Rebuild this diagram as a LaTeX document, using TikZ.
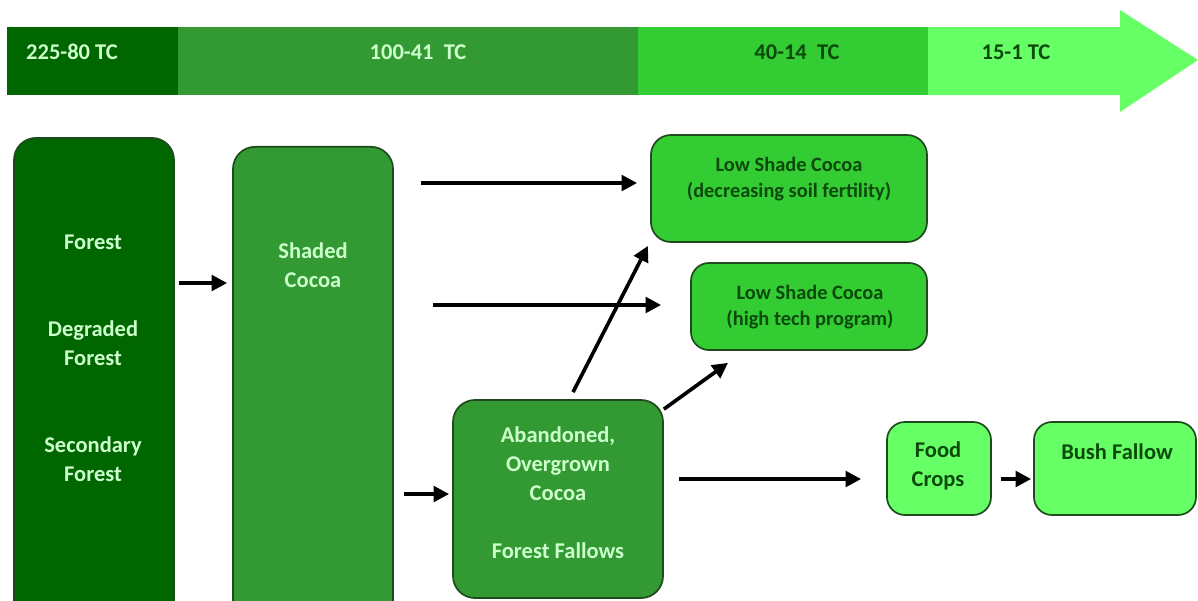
\documentclass[tikz,border=0pt]{standalone}
\usepackage{fontspec}
\setmainfont{Carlito}
\usetikzlibrary{arrows.meta}
\definecolor{forestgreen}{HTML}{006600}
\definecolor{shadegreen}{HTML}{339933}
\definecolor{lowgreen}{HTML}{33CC33}
\definecolor{cropgreen}{HTML}{66FF66}
\definecolor{paletext}{HTML}{CCFFCC}
\definecolor{darktext}{HTML}{0B4A0B}
\definecolor{edgegreen}{HTML}{1E4A1E}
\tikzset{
        box/.style={draw=edgegreen,line width=1.2pt,rounded corners=0.55cm,inner sep=0pt},
        flow/.style={-{Triangle[length=11pt,width=11pt]},line width=2.6pt,black},
        lbl/.style={align=center,inner sep=0pt,font=\fontsize{16}{20.5}\selectfont\bfseries},
        small/.style={lbl,font=\fontsize{14.5}{18.5}\selectfont\bfseries}
}

\begin{document}
\begin{tikzpicture}[x=0.025cm,y=-0.025cm]
        \clip (0,0) rectangle (1198,600);
        \fill[white] (0,0) rectangle (1198,600);

        \fill[forestgreen](7,27) rectangle (178,95);
        \fill[shadegreen](178,27) rectangle (638,95);
        \fill[lowgreen](638,27) rectangle (928,95);
        \fill[cropgreen](928,27)--(1120,27)--(1120,10)--(1198,60)--(1120,112)--(1120,95)--(928,95)--cycle;
        \node[lbl,text=paletext] (tca) at (72,52) {225-80 TC};
        \node[lbl,text=paletext] (tcb) at (418,52) {100-41~ TC};
        \node[lbl,text=darktext] (tcc) at (797,52) {40-14~ TC};
        \node[lbl,text=darktext] (tcd) at (1016,52) {15-1 TC};

        \node[box,fill=forestgreen,minimum width=4cm,minimum height=12.55cm] (forest) at (94,389) {};
        \node[box,fill=shadegreen,minimum width=4cm,minimum height=12.33cm] (shaded) at (313,393.5) {};
        \node[box,fill=shadegreen,minimum width=5.25cm,minimum height=4.95cm] (aband) at (558,499) {};
        \node[box,fill=lowgreen,minimum width=6.9cm,minimum height=2.675cm,rounded corners=0.5cm] (lsca) at (789,188.5) {};
        \node[box,fill=lowgreen,minimum width=5.9cm,minimum height=2.175cm,rounded corners=0.45cm] (lscb) at (809,306.5) {};
        \node[box,fill=cropgreen,minimum width=2.6cm,minimum height=2.325cm,rounded corners=0.45cm] (food) at (939,468.5) {};
        \node[box,fill=cropgreen,minimum width=4.05cm,minimum height=2.325cm,rounded corners=0.45cm] (bush) at (1115,468.5) {};

        \node[lbl,text=paletext] (forestlbl) at (93,242) {Forest};
        \node[lbl,text=paletext] (degradedlbl) at (93,343) {Degraded\\Forest};
        \node[lbl,text=paletext] (secondarylbl) at (93,459) {Secondary\\Forest};
        \node[lbl,text=paletext] (shadedlbl) at (313,265) {Shaded\\Cocoa};
        \node[lbl,text=paletext] (abandlbl) at (558,464) {Abandoned,\\Overgrown\\Cocoa};
        \node[lbl,text=paletext] (fallowlbl) at (558,551) {Forest Fallows};
        \node[small,text=darktext] (lscalbl) at (789,179) {Low Shade Cocoa\\(decreasing soil fertility)};
        \node[small,text=darktext] (lscblbl) at (810,307) {Low Shade Cocoa\\(high tech program)};
        \node[lbl,text=darktext] (foodlbl) at (938,466) {Food\\Crops};
        \node[lbl,text=darktext] (bushlbl) at (1117,452) {Bush Fallow};

        \draw[flow,shorten <=0.1cm,shorten >=0.125cm](forest.east |- 0,283)--(shaded.west |- 0,283);
        \draw[flow,shorten <=0.675cm,shorten >=0.325cm](shaded.east |- 0,183)--(lsca.west |- 0,183);
        \draw[flow,shorten <=0.975cm,shorten >=0.725cm](shaded.east |- 0,305)--(lscb.west |- 0,305);
        \draw[flow,shorten <=0.25cm,shorten >=0.075cm](shaded.east |- 0,494)--(aband.west |- 0,494);
        \draw[flow]([xshift=0.375cm,yshift=0.175cm]aband.north)--([xshift=-3.525cm,yshift=-0.075cm]lsca.south);
        \draw[flow]([yshift=-0.25cm]aband.north east)--([xshift=-2.025cm,yshift=-0.3cm]lscb.south);
        \draw[flow,shorten <=0.375cm,shorten >=0.625cm](aband.east |- 0,479)--(food.west |- 0,479);
        \draw[flow,shorten <=0.225cm,shorten >=0.05cm](food.east |- 0,479)--(bush.west |- 0,479);
    \end{tikzpicture}
\end{document}
